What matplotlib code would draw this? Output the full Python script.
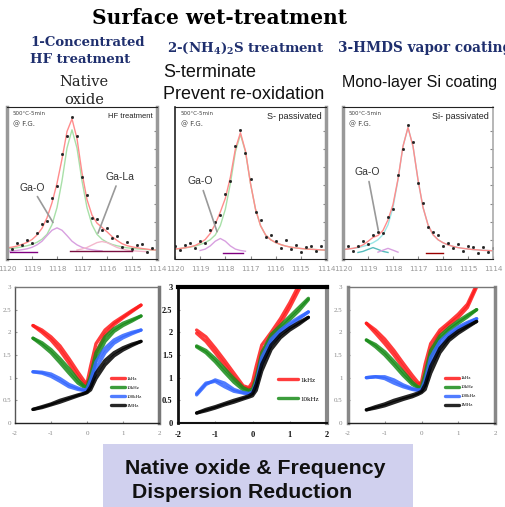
import matplotlib
matplotlib.use('agg')
import matplotlib.pyplot as plt
from matplotlib.patches import Rectangle

plt.rcParams['mathtext.fontset'] = 'custom'
plt.rcParams['mathtext.bf'] = 'DejaVu Serif:bold'
plt.rcParams['mathtext.rm'] = 'DejaVu Serif:bold'

W, H = 506, 507

# ---- XPS Ga 2p spectra (top row) ----
energy = [1120.0, 1119.8, 1119.6, 1119.4, 1119.2, 1119.0, 1118.8, 1118.6, 1118.4, 1118.2,
          1118.0, 1117.8, 1117.6, 1117.4, 1117.2, 1117.0, 1116.8, 1116.6, 1116.4, 1116.2,
          1116.0, 1115.8, 1115.6, 1115.4, 1115.2, 1115.0, 1114.8, 1114.6, 1114.4, 1114.2, 1114.0]
energy_ticks = [1120, 1119, 1118, 1117, 1116, 1115, 1114]

hf_counts = [0.083, 0.063, 0.105, 0.091, 0.124, 0.108, 0.170, 0.227, 0.253, 0.400, 0.478,
             0.693, 0.809, 0.932, 0.812, 0.542, 0.421, 0.269, 0.266, 0.193, 0.204, 0.138,
             0.152, 0.081, 0.113, 0.065, 0.094, 0.099, 0.045, 0.075, 0.049]
hf_fit = [0.073, 0.078, 0.085, 0.096, 0.109, 0.128, 0.158, 0.202, 0.271, 0.370, 0.498,
          0.658, 0.839, 0.922, 0.792, 0.567, 0.391, 0.289, 0.236, 0.208, 0.179, 0.148,
          0.122, 0.101, 0.088, 0.080, 0.074, 0.069, 0.065, 0.060, 0.059]
hf_main = [0.067, 0.070, 0.074, 0.080, 0.087, 0.096, 0.110, 0.130, 0.162, 0.226, 0.338,
           0.514, 0.730, 0.850, 0.730, 0.514, 0.338, 0.226, 0.162, 0.130, 0.110, 0.096,
           0.087, 0.080, 0.074, 0.070, 0.067, 0.064, 0.062, 0.060, 0.059]
hf_gao = [0.051, 0.053, 0.056, 0.061, 0.067, 0.077, 0.093, 0.117, 0.154, 0.189, 0.205,
          0.189, 0.154, 0.117, 0.093, 0.077, 0.067, 0.061, 0.056, 0.053]
hf_gala_energy = energy[14:29]
hf_gala = [0.059, 0.066, 0.076, 0.092, 0.108, 0.115, 0.108, 0.092, 0.076, 0.066, 0.059,
           0.055, 0.052, 0.050, 0.048]

s_counts = [0.086, 0.059, 0.089, 0.105, 0.074, 0.116, 0.108, 0.188, 0.245, 0.289, 0.429,
            0.513, 0.745, 0.851, 0.696, 0.527, 0.307, 0.254, 0.148, 0.157, 0.118, 0.075,
            0.125, 0.063, 0.093, 0.044, 0.081, 0.084, 0.052, 0.085, 0.038]
s_fit = [0.066, 0.069, 0.074, 0.080, 0.089, 0.106, 0.128, 0.168, 0.230, 0.309, 0.399,
         0.538, 0.725, 0.831, 0.711, 0.497, 0.327, 0.219, 0.158, 0.127, 0.108, 0.095,
         0.085, 0.078, 0.073, 0.069, 0.066, 0.064, 0.062, 0.060, 0.058]
s_main = [0.066, 0.069, 0.073, 0.078, 0.085, 0.095, 0.108, 0.127, 0.158, 0.219, 0.327,
          0.497, 0.705, 0.820, 0.705, 0.497, 0.327, 0.219, 0.158, 0.127, 0.108, 0.095,
          0.085, 0.078, 0.073, 0.069, 0.066, 0.064, 0.062, 0.060, 0.058]
s_gao_energy = energy[5:15]
s_gao = [0.056, 0.065, 0.086, 0.117, 0.135, 0.117, 0.086, 0.065, 0.056, 0.051]

si_counts = [0.052, 0.086, 0.055, 0.088, 0.118, 0.096, 0.157, 0.175, 0.173, 0.278, 0.328,
             0.551, 0.722, 0.880, 0.767, 0.501, 0.370, 0.210, 0.180, 0.157, 0.087, 0.108,
             0.073, 0.100, 0.050, 0.086, 0.077, 0.040, 0.082, 0.046, 0.074]
si_fit = [0.062, 0.066, 0.070, 0.078, 0.093, 0.116, 0.142, 0.155, 0.188, 0.258, 0.358,
          0.526, 0.742, 0.865, 0.742, 0.521, 0.340, 0.225, 0.160, 0.127, 0.107, 0.093,
          0.083, 0.075, 0.070, 0.066, 0.062, 0.060, 0.057, 0.056, 0.054]
si_main = [0.062, 0.066, 0.070, 0.075, 0.083, 0.093, 0.107, 0.127, 0.160, 0.225, 0.340,
           0.521, 0.742, 0.865, 0.742, 0.521, 0.340, 0.225, 0.160, 0.127, 0.107, 0.093,
           0.083, 0.075, 0.070, 0.066, 0.062, 0.060, 0.057, 0.056, 0.054]
si_gao1_energy = energy[3:10]
si_gao1 = [0.043, 0.050, 0.063, 0.075, 0.063, 0.050, 0.043]
si_gao2_energy = energy[7:12]
si_gao2 = [0.045, 0.058, 0.070, 0.058, 0.045]

# flat background pieces near the baseline: (E start, E end, level, colour)
hf_bg = [(1119.9, 1118.8, 0.045, '#800080'), (1117.5, 1115.0, 0.055, '#7a1040')]
s_bg = [(1118.1, 1117.3, 0.040, '#800080')]
si_bg = [(1116.7, 1116.0, 0.040, '#990000')]

# ---- C-V curves (bottom row) ----
voltage = [-1.5, -1.25, -1.0, -0.75, -0.5, -0.25, -0.1, 0.0, 0.1, 0.25, 0.5, 0.75, 1.0, 1.25, 1.5]
v_ticks = [-2, -1, 0, 1, 2]
c_ticks = [0, 0.5, 1, 1.5, 2, 2.5, 3]
c_tick_labels = ['0', '0.5', '1', '1.5', '2', '2.5', '3']
freq_labels = ['1kHz', '10kHz', '100kHz', '1MHz']
freq_colors = ['#ff1a1a', '#1a8c1a', '#3366ff', '#000000']

hf_cv = [
    ([2.15, 2.00, 1.83, 1.60, 1.32, 1.02, 0.87, 0.88, 1.25, 1.75, 2.05, 2.22, 2.35, 2.48, 2.60],
     [2.15, 2.05, 1.90, 1.70, 1.42, 1.12, 0.95, 0.85, 1.05, 1.55, 1.95, 2.17, 2.32, 2.46, 2.60]),
    ([1.87, 1.72, 1.55, 1.33, 1.10, 0.88, 0.80, 0.80, 1.05, 1.55, 1.90, 2.08, 2.20, 2.28, 2.36],
     [1.87, 1.77, 1.62, 1.42, 1.20, 0.95, 0.83, 0.78, 0.90, 1.40, 1.80, 2.02, 2.15, 2.25, 2.36]),
    ([1.13, 1.10, 1.03, 0.92, 0.80, 0.74, 0.72, 0.75, 0.95, 1.35, 1.65, 1.83, 1.93, 2.00, 2.05],
     [1.13, 1.12, 1.08, 0.98, 0.85, 0.77, 0.73, 0.72, 0.82, 1.20, 1.55, 1.76, 1.88, 1.97, 2.05]),
    ([0.30, 0.36, 0.42, 0.50, 0.56, 0.62, 0.65, 0.68, 0.80, 1.10, 1.38, 1.55, 1.66, 1.74, 1.80],
     [0.30, 0.34, 0.40, 0.46, 0.53, 0.60, 0.64, 0.67, 0.73, 0.98, 1.28, 1.48, 1.61, 1.71, 1.80]),
]
s_cv = [
    ([2.05, 1.90, 1.65, 1.38, 1.10, 0.82, 0.78, 0.90, 1.25, 1.72, 2.00, 2.30, 2.65, 3.05, 3.40],
     [1.98, 1.80, 1.55, 1.28, 1.00, 0.78, 0.76, 0.80, 1.05, 1.55, 1.90, 2.20, 2.55, 2.95, 3.30]),
    ([1.70, 1.60, 1.42, 1.20, 0.98, 0.78, 0.72, 0.75, 1.00, 1.55, 1.95, 2.15, 2.35, 2.55, 2.75],
     [1.68, 1.55, 1.35, 1.12, 0.90, 0.73, 0.70, 0.70, 0.85, 1.40, 1.85, 2.08, 2.28, 2.48, 2.72]),
    ([0.65, 0.88, 0.92, 0.80, 0.70, 0.66, 0.65, 0.68, 0.90, 1.45, 1.85, 2.05, 2.20, 2.33, 2.45],
     [0.62, 0.85, 0.95, 0.88, 0.74, 0.67, 0.65, 0.66, 0.80, 1.30, 1.75, 2.00, 2.15, 2.30, 2.45]),
    ([0.22, 0.30, 0.36, 0.43, 0.50, 0.56, 0.60, 0.65, 0.85, 1.30, 1.72, 1.95, 2.10, 2.22, 2.33],
     [0.22, 0.27, 0.33, 0.40, 0.46, 0.53, 0.57, 0.60, 0.72, 1.15, 1.62, 1.88, 2.05, 2.18, 2.33]),
]
si_cv = [
    ([2.20, 1.98, 1.75, 1.50, 1.22, 0.95, 0.84, 0.90, 1.30, 1.75, 2.05, 2.22, 2.40, 2.62, 3.05],
     [2.20, 2.05, 1.85, 1.60, 1.32, 1.05, 0.90, 0.84, 1.05, 1.60, 1.98, 2.17, 2.33, 2.55, 3.00]),
    ([1.83, 1.68, 1.50, 1.28, 1.05, 0.85, 0.78, 0.80, 1.10, 1.60, 1.92, 2.10, 2.25, 2.38, 2.50],
     [1.83, 1.73, 1.57, 1.36, 1.13, 0.90, 0.80, 0.77, 0.92, 1.45, 1.85, 2.05, 2.20, 2.34, 2.50]),
    ([1.00, 1.02, 0.98, 0.88, 0.80, 0.74, 0.72, 0.74, 0.95, 1.45, 1.80, 1.98, 2.12, 2.22, 2.30],
     [1.00, 1.02, 1.02, 0.95, 0.84, 0.76, 0.73, 0.72, 0.82, 1.30, 1.70, 1.92, 2.08, 2.19, 2.30]),
    ([0.29, 0.36, 0.42, 0.50, 0.56, 0.62, 0.66, 0.70, 0.85, 1.25, 1.65, 1.88, 2.03, 2.14, 2.24],
     [0.29, 0.33, 0.38, 0.45, 0.52, 0.58, 0.63, 0.67, 0.74, 1.10, 1.55, 1.82, 1.98, 2.11, 2.24]),
]


def px_box(l, t, r, b):
    return [l / W, 1 - b / H, (r - l) / W, (b - t) / H]


def ftext(x, y, s, **kw):
    fig.text(x / W, 1 - y / H, s, **kw)


def style_spines(ax, spec):
    for side, (color, lw) in spec.items():
        ax.spines[side].set_color(color)
        ax.spines[side].set_linewidth(lw)


fig = plt.figure(figsize=(W / 100, H / 100), dpi=100)

# ---- headings ----
navy = '#1f2f6e'
ftext(220, 18, 'Surface wet-treatment', ha='center', va='center', fontsize=14.5,
      fontweight='bold', family='DejaVu Serif')
ftext(30, 42, '1-Concentrated', ha='left', va='center', fontsize=9.5, fontweight='bold',
      family='DejaVu Serif', color=navy)
ftext(30, 60, 'HF treatment', ha='left', va='center', fontsize=9.5, fontweight='bold',
      family='DejaVu Serif', color=navy)
ftext(167, 48, r'2-(NH$_\mathbf{4}$)$_\mathbf{2}$S treatment', ha='left', va='center',
      fontsize=9.6, fontweight='bold', family='DejaVu Serif', color=navy)
ftext(338, 48, '3-HMDS vapor coating', ha='left', va='center', fontsize=9.8,
      fontweight='bold', family='DejaVu Serif', color=navy)
ftext(84, 82, 'Native', ha='center', va='center', fontsize=10.5, family='DejaVu Serif',
      color='#222222')
ftext(84, 100, 'oxide', ha='center', va='center', fontsize=10.5, family='DejaVu Serif',
      color='#222222')
ftext(163, 72, 'S-terminate', ha='left', va='center', fontsize=13, family='Liberation Sans',
      color='#111111')
ftext(163, 94, 'Prevent re-oxidation', ha='left', va='center', fontsize=13,
      family='Liberation Sans', color='#111111')
ftext(342, 83, 'Mono-layer Si coating', ha='left', va='center', fontsize=11.5,
      family='Liberation Sans', color='#111111')

# ---- XPS panels ----
xps_panels = [
    dict(box=(7, 107, 157, 259), counts=hf_counts, fit=hf_fit, main=hf_main, main_color='#a8e0a8',
         comps=[(energy[:20], hf_gao, '#d8a0e0'), (hf_gala_energy, hf_gala, '#f4b8cc')],
         bg=hf_bg, tag='HF treatment', tag_size=5.5,
         spines={'left': ('#999999', 2.5), 'right': ('#999999', 2.5),
                 'top': ('#222222', 0.8), 'bottom': ('#222222', 0.8)},
         notes=[('Ga-O', (1119.0, 0.47), (1118.16, 0.24)),
                ('Ga-La', (1115.5, 0.54), (1116.36, 0.17))]),
    dict(box=(175, 107, 326, 259), counts=s_counts, fit=s_fit, main=s_main, main_color='#a8e0a8',
         comps=[(s_gao_energy, s_gao, '#d8a0e0')],
         bg=s_bg, tag='S- passivated', tag_size=6.5,
         spines={'left': ('#222222', 1.2), 'right': ('#999999', 2.5),
                 'top': ('#222222', 0.8), 'bottom': ('#222222', 0.8)},
         notes=[('Ga-O', (1119.0, 0.51), (1118.33, 0.18))]),
    dict(box=(343, 107, 493, 259), counts=si_counts, fit=si_fit, main=si_main, main_color='#99e6e6',
         comps=[(si_gao1_energy, si_gao1, '#55bbbb'), (si_gao2_energy, si_gao2, '#d8a0e0')],
         bg=si_bg, tag='Si- passivated', tag_size=6.5,
         spines={'left': ('#999999', 2.5), 'right': ('#aaaaaa', 1.2),
                 'top': ('#222222', 0.8), 'bottom': ('#222222', 0.8)},
         notes=[('Ga-O', (1119.03, 0.57), (1118.59, 0.19))]),
]

for p in xps_panels:
    ax = fig.add_axes(px_box(*p['box']))
    ax.plot(energy, p['main'], color=p['main_color'], lw=1.0)
    for e, y, c in p['comps']:
        ax.plot(e, y, color=c, lw=1.0)
    for e0, e1, lev, c in p['bg']:
        ax.plot([e0, e1], [lev, lev], color=c, lw=1.0)
    ax.plot(energy, p['fit'], color='#ff8c8c', lw=1.0)
    ax.plot(energy, p['counts'], ls='none', marker='s', ms=1.0, color='#222222')
    for label, xy_text, xy in p['notes']:
        ax.annotate(label, xy=xy, xytext=xy_text, ha='center', va='center', fontsize=7.5,
                    family='Liberation Sans', color='#333333',
                    arrowprops=dict(arrowstyle='-', color='#999999', lw=1.2,
                                    shrinkA=1, shrinkB=0))
    ax.text(0.04, 0.955, '500\u00b0C-5min', transform=ax.transAxes, fontsize=4,
            color='#444444', va='center')
    ax.text(0.04, 0.89, '@ F.G.', transform=ax.transAxes, fontsize=5,
            color='#444444', va='center')
    ax.text(0.97, 0.94, p['tag'], transform=ax.transAxes, fontsize=p['tag_size'],
            color='#222222', ha='right', va='center', family='Liberation Sans')
    ax.set_xlim(1120, 1114)
    ax.set_ylim(0, 1)
    ax.set_xticks(energy_ticks)
    ax.set_xticklabels([str(t) for t in energy_ticks])
    ax.yaxis.tick_right()
    ax.set_yticks([0.125, 0.245, 0.365, 0.485, 0.605, 0.725, 0.845])
    ax.set_yticklabels([])
    ax.tick_params(axis='x', direction='in', length=2, pad=5, labelsize=5.2,
                   labelcolor='#999999', color='#888888')
    ax.tick_params(axis='y', direction='in', length=2, color='#888888')
    style_spines(ax, p['spines'])

# ---- C-V panels ----
cv_panels = [
    dict(box=(15, 287, 159, 423), curves=hf_cv, n_leg=4, leg_size=3.5, leg_space=0.95,
         leg_anchor=(0.65, 0.355), tick_color='#888888', tick_weight='normal', tick_size=5,
         ypad=2.5,
         spines={'left': ('#555555', 1.0), 'right': ('#777777', 2.5),
                 'top': ('#777777', 1.0), 'bottom': ('#222222', 1.0)}),
    dict(box=(178, 287, 327, 423), curves=s_cv, n_leg=2, leg_size=5, leg_space=1.9,
         leg_anchor=(0.65, 0.36), tick_color='#111111', tick_weight='bold', tick_size=6,
         ypad=4,
         spines={'left': ('#111111', 2.0), 'right': ('#888888', 3.0),
                 'top': ('#000000', 3.0), 'bottom': ('#111111', 1.5)}),
    dict(box=(348, 287, 495, 423), curves=si_cv, n_leg=4, leg_size=3.5, leg_space=0.95,
         leg_anchor=(0.645, 0.36), tick_color='#888888', tick_weight='normal', tick_size=5,
         ypad=4,
         spines={'left': ('#888888', 2.5), 'right': ('#888888', 2.5),
                 'top': ('#777777', 1.0), 'bottom': ('#222222', 1.0)}),
]

for p in cv_panels:
    ax = fig.add_axes(px_box(*p['box']))
    handles = []
    for (fwd, rev), color, label in zip(p['curves'], freq_colors, freq_labels):
        ax.plot(voltage, rev, color=color, lw=2.4, alpha=0.85, solid_capstyle='round')
        h, = ax.plot(voltage, fwd, color=color, lw=2.4, alpha=0.85, solid_capstyle='round',
                     label=label)
        handles.append(h)
    ax.legend(handles=handles[:p['n_leg']], loc='upper left', bbox_to_anchor=p['leg_anchor'],
              frameon=False, handlelength=3.0, handletextpad=0.3,
              labelspacing=p['leg_space'], borderaxespad=0,
              prop=dict(size=p['leg_size'], family='Liberation Serif'))
    ax.set_xlim(-2, 2)
    ax.set_ylim(0, 3)
    ax.set_xticks(v_ticks)
    ax.set_xticklabels([str(t) for t in v_ticks])
    ax.set_yticks(c_ticks)
    ax.set_yticklabels(c_tick_labels)
    ax.tick_params(direction='in', length=1.5, pad=6, labelsize=p['tick_size'],
                   labelcolor=p['tick_color'], color='#999999')
    ax.tick_params(axis='y', pad=p['ypad'])
    for lab in ax.get_xticklabels() + ax.get_yticklabels():
        lab.set_fontweight(p['tick_weight'])
        lab.set_family('Liberation Serif')
    style_spines(ax, p['spines'])

# ---- conclusion box ----
fig.add_artist(Rectangle((103 / W, 0), (413 - 103) / W, (507 - 444) / H,
                         transform=fig.transFigure, facecolor='#d0d0ee', edgecolor='none'))
ftext(125, 468, 'Native oxide & Frequency', ha='left', va='center', fontsize=15.3,
      fontweight='bold', family='Liberation Sans', color='#111111')
ftext(132, 493, 'Dispersion Reduction', ha='left', va='center', fontsize=15.3,
      fontweight='bold', family='Liberation Sans', color='#111111')

fig.savefig('out.png', dpi=100)
